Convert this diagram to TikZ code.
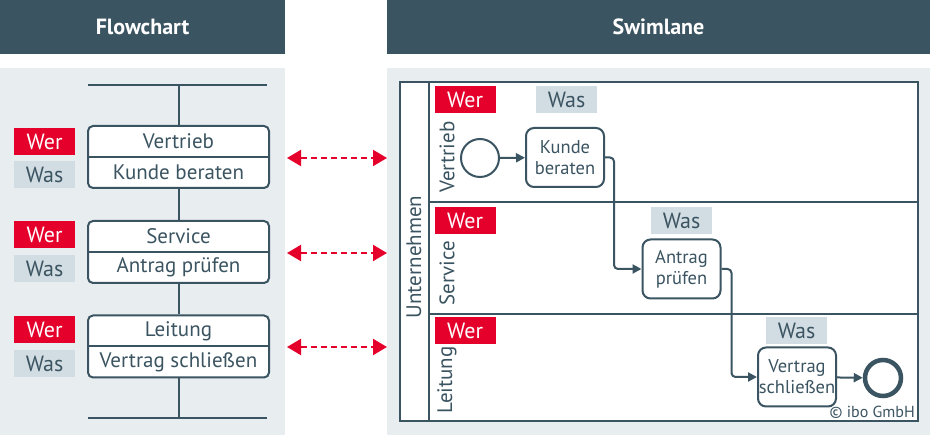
\documentclass[tikz,border=0pt]{standalone}
\usepackage{fontspec}
\setmainfont{PT Sans}
\usetikzlibrary{arrows.meta,positioning}
\definecolor{ibodark}{HTML}{3B5461}
\definecolor{ibored}{HTML}{E4002B}
\definecolor{ibogray}{HTML}{E8EDF0}
\definecolor{ibowas}{HTML}{D2DCE3}

\begin{document}
\begin{tikzpicture}[x=1pt, y=-1pt,
  header/.style={fill=ibodark, text=white, font=\fontsize{22}{26}\selectfont\bfseries, minimum height=54pt, inner sep=0pt},
  wer/.style={fill=ibored, text=white, minimum width=61pt, minimum height=27pt, inner sep=0pt, font=\fontsize{22}{24}\selectfont},
  was/.style={wer, fill=ibowas, text=ibodark},
  fcbox/.style={draw=ibodark, line width=2pt, fill=white, rounded corners=5pt, minimum width=181pt, minimum height=62pt, inner sep=0pt},
  fctext/.style={text=ibodark, font=\fontsize{21}{24}\selectfont, inner sep=0pt},
  task/.style={draw=ibodark, line width=2pt, fill=white, rounded corners=8pt, minimum width=78pt, minimum height=59pt, inner sep=0pt, align=center, text=ibodark, font=\fontsize{18.5}{21}\selectfont},
  lane/.style={rotate=90, text=ibodark, font=\fontsize{21}{24}\selectfont, inner sep=0pt},
  event/.style={draw=ibodark, circle, fill=white, inner sep=0pt},
  flow/.style={-{Triangle[length=9pt,width=9pt]}, line width=2pt, draw=ibodark, rounded corners=4pt},
  link/.style={{Triangle[length=14pt,width=16pt]}-{Triangle[length=14pt,width=16pt]}, draw=ibored, line width=2pt, dash pattern=on 6pt off 4pt},
  line/.style={draw=ibodark, line width=2pt}
]
  \useasboundingbox (0,0) rectangle (930,435);

  \node[header, minimum width=285pt] (hflow) at (142.5,27) {Flowchart};
  \node[header, minimum width=543pt] (hswim) at (658.5,27) {Swimlane};
  \fill[ibogray] (0,68) rectangle (285,435);
  \fill[ibogray] (387,68) rectangle (930,435);

  % flowchart
  \coordinate (topl) at (88,85);
  \coordinate (topr) at (267,85);
  \coordinate (topm) at (178.5,85);
  \coordinate (botl) at (88,418);
  \coordinate (botr) at (267,418);
  \coordinate (botm) at (178.5,418);
  \draw[line] (topl) -- (topr);
  \draw[line] (botl) -- (botr);

  \node[fcbox] (fc1) at (178.5,157) {};
  \node[fcbox] (fc2) at (178.5,252) {};
  \node[fcbox] (fc3) at (178.5,346.5) {};
  \draw[line] (fc1.west) -- (fc1.east);
  \draw[line] (fc2.west) -- (fc2.east);
  \draw[line] (fc3.west) -- (fc3.east);
  \node[fctext] (fc1a) at (178.5,141.5) {Vertrieb};
  \node[fctext] (fc1b) at (178.5,172.5) {Kunde beraten};
  \node[fctext] (fc2a) at (178.5,236.5) {Service};
  \node[fctext] (fc2b) at (178.5,267.5) {Antrag prüfen};
  \node[fctext] (fc3a) at (178.5,331) {Leitung};
  \node[fctext] (fc3b) at (178.5,362) {Vertrag schließen};

  \draw[line] (topm) -- (fc1);
  \draw[line] (fc1) -- (fc2);
  \draw[line] (fc2) -- (fc3);
  \draw[line] (fc3) -- (botm);

  \node[wer] (wer1) at (44.5,141.5) {Wer};
  \node[was] (was1) at (44.5,175) {Was};
  \node[wer] (wer2) at (44.5,234.5) {Wer};
  \node[was] (was2) at (44.5,268.5) {Was};
  \node[wer] (wer3) at (44.5,329.5) {Wer};
  \node[was] (was3) at (44.5,363.5) {Was};

  % links
  \coordinate (l1) at (287,158);
  \coordinate (r1) at (387,158);
  \coordinate (l2) at (287,253);
  \coordinate (r2) at (387,253);
  \coordinate (l3) at (287,347);
  \coordinate (r3) at (387,347);
  \draw[link] (l1) -- (r1);
  \draw[link] (l2) -- (r2);
  \draw[link] (l3) -- (r3);

  % swimlane
  \fill[white] (400,82) rectangle (918,421);
  \draw[line] (400,82) rectangle (918,421);
  \draw[line] (429,82) -- (429,421);
  \draw[line] (429,202) -- (918,202);
  \draw[line] (429,314) -- (918,314);

  \node[lane] (pool) at (414,257) {Unternehmen};
  \node[lane] (lane1) at (447,157) {Vertrieb};
  \node[lane] (lane2) at (447,273) {Service};
  \node[lane] (lane3) at (447,380) {Leitung};

  \node[wer] (swer1) at (465,100) {Wer};
  \node[was] (swas1) at (566.5,100) {Was};
  \node[wer] (swer2) at (465,221) {Wer};
  \node[was] (swas2) at (681.5,221) {Was};
  \node[wer] (swer3) at (465,331) {Wer};
  \node[was] (swas3) at (796.5,331) {Was};

  \node[event, line width=2pt, minimum size=38pt] (start) at (480,158) {};
  \node[task] (kunde) at (565,157.5) {Kunde\\beraten};
  \node[task] (antrag) at (681.5,269) {Antrag\\prüfen};
  \node[task] (vertrag) at (797,377) {Vertrag\\schließen};
  \node[event, line width=4.5pt, minimum size=36pt] (end) at (883,378) {};

  \draw[flow] (start) -- (kunde);
  \draw[flow] (kunde.east) -- ++(9,0) |- (antrag.west);
  \draw[flow] (antrag.east) -- ++(10,0) |- (vertrag.west);
  \draw[flow] (vertrag) -- (end);

  \node[anchor=south east, text=ibodark, font=\fontsize{16}{18}\selectfont, inner sep=1pt] (copy) at (916,420) {© ibo GmbH};
\end{tikzpicture}
\end{document}
